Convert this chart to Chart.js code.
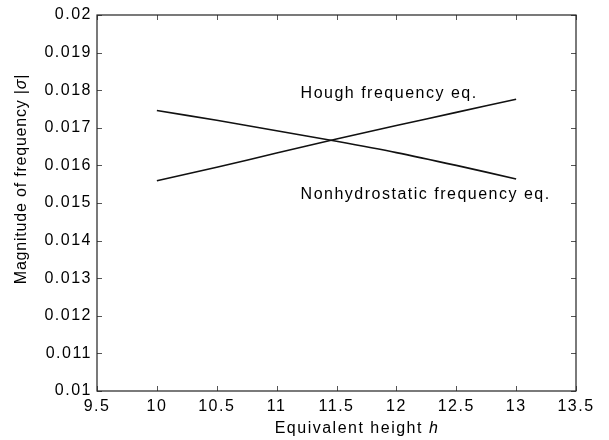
<!DOCTYPE html>
<html>
<head>
<meta charset="utf-8">
<script src="https://cdn.jsdelivr.net/npm/chart.js@4/dist/chart.umd.min.js"></script>
<style>
  html, body { margin: 0; padding: 0; background: #fff; }
  #wrap { width: 609px; height: 440px; }
</style>
</head>
<body>
<div id="wrap"><canvas id="chart"></canvas></div>
<script>
// equivalent height h
const heights = [10, 10.5, 11, 11.5, 12, 12.5, 13];
// |sigma| from the two frequency equations
const hough = [0.01559, 0.01595, 0.01633, 0.01670, 0.01706, 0.01741, 0.01776];
const nonhydro = [0.01746, 0.01720, 0.01692, 0.01664, 0.01634, 0.01600, 0.01564];

const xTicks = [9.5, 10, 10.5, 11, 11.5, 12, 12.5, 13, 13.5];
const yTicks = [0.01, 0.011, 0.012, 0.013, 0.014, 0.015, 0.016, 0.017, 0.018, 0.019, 0.02];

// text labels placed next to the curves (data coords of left edge)
const curveLabels = [
  { text: "Hough frequency eq.", x: 11.2, y: 0.01792 },
  { text: "Nonhydrostatic frequency eq.", x: 11.2, y: 0.01522 }
];

const FONT = "16px 'Liberation Sans', Arial, sans-serif";
const SPACING = "1.5px";

function toPoints(xs, ys) {
  return xs.map((x, i) => ({ x: x, y: ys[i] }));
}

// draw a string made of pieces with different styles, left to right
function drawPieces(ctx, pieces, x, y, align) {
  let total = 0;
  pieces.forEach(p => { ctx.font = p.font; total += ctx.measureText(p.text).width; });
  let cx = align === "center" ? x - total / 2 : x;
  pieces.forEach(p => {
    ctx.font = p.font;
    ctx.fillText(p.text, cx, y);
    cx += ctx.measureText(p.text).width;
  });
}

const boxPlugin = {
  id: "box",
  beforeDraw(chart) {
    chart.ctx.letterSpacing = SPACING;
  },
  afterDraw(chart) {
    const ctx = chart.ctx;
    const a = chart.chartArea;
    const xs = chart.scales.x, ys = chart.scales.y;
    ctx.save();
    ctx.letterSpacing = SPACING;

    // inward ticks on all four sides
    ctx.strokeStyle = "#555";
    ctx.lineWidth = 1;
    ctx.beginPath();
    xTicks.forEach(v => {
      const px = Math.round(xs.getPixelForValue(v)) + 0.5;
      ctx.moveTo(px, a.bottom); ctx.lineTo(px, a.bottom - 5);
      ctx.moveTo(px, a.top); ctx.lineTo(px, a.top + 5);
    });
    yTicks.forEach(v => {
      const py = Math.round(ys.getPixelForValue(v)) + 0.5;
      ctx.moveTo(a.left, py); ctx.lineTo(a.left + 5, py);
      ctx.moveTo(a.right, py); ctx.lineTo(a.right - 5, py);
    });
    ctx.stroke();

    // box
    ctx.strokeStyle = "#222";
    ctx.lineWidth = 1.2;
    ctx.strokeRect(a.left, a.top, a.right - a.left, a.bottom - a.top);

    // curve labels
    ctx.fillStyle = "#000";
    ctx.textBaseline = "middle";
    ctx.textAlign = "left";
    ctx.font = FONT;
    curveLabels.forEach(l => {
      ctx.fillText(l.text, xs.getPixelForValue(l.x), ys.getPixelForValue(l.y));
    });

    // x axis title
    const normal = FONT;
    const italic = "italic " + FONT;
    ctx.textBaseline = "alphabetic";
    drawPieces(ctx, [
      { text: "Equivalent height ", font: normal },
      { text: "h", font: italic }
    ], 357, 433, "center");

    // y axis title, rotated
    ctx.textBaseline = "middle";
    ctx.letterSpacing = "0.8px";
    ctx.translate(22, 179);
    ctx.rotate(-Math.PI / 2);
    drawPieces(ctx, [
      { text: "Magnitude of frequency |", font: normal },
      { text: "σ", font: italic },
      { text: "|", font: normal }
    ], 0, 0, "center");
    ctx.restore();
  }
};

new Chart(document.getElementById("chart"), {
  type: "line",
  data: {
    datasets: [
      {
        label: "Hough frequency eq.",
        data: toPoints(heights, hough),
        borderColor: "#111",
        borderWidth: 1.6,
        pointRadius: 0,
        fill: false,
        tension: 0.3
      },
      {
        label: "Nonhydrostatic frequency eq.",
        data: toPoints(heights, nonhydro),
        borderColor: "#111",
        borderWidth: 1.6,
        pointRadius: 0,
        fill: false,
        tension: 0.3
      }
    ]
  },
  options: {
    responsive: true,
    maintainAspectRatio: false,
    animation: false,
    layout: { padding: { left: 0, top: 15, right: 33, bottom: 0 } },
    plugins: {
      legend: { display: false },
      tooltip: { enabled: false }
    },
    scales: {
      x: {
        type: "linear",
        min: 9.5,
        max: 13.5,
        afterBuildTicks: s => { s.ticks = xTicks.map(v => ({ value: v })); },
        afterFit: s => { s.height = 49; },
        grid: { display: false, drawTicks: false },
        border: { display: false },
        ticks: {
          padding: 6,
          color: "#000",
          font: { family: "'Liberation Sans', Arial, sans-serif", size: 16 },
          maxRotation: 0,
          callback: v => String(v)
        }
      },
      y: {
        type: "linear",
        min: 0.01,
        max: 0.02,
        afterBuildTicks: s => { s.ticks = yTicks.map(v => ({ value: v })); },
        afterFit: s => { s.width = 97; },
        grid: { display: false, drawTicks: false },
        border: { display: false },
        ticks: {
          padding: 5,
          color: "#000",
          font: { family: "'Liberation Sans', Arial, sans-serif", size: 16 },
          callback: v => String(Number(v.toFixed(3)))
        }
      }
    }
  },
  plugins: [boxPlugin]
});
</script>
</body>
</html>
